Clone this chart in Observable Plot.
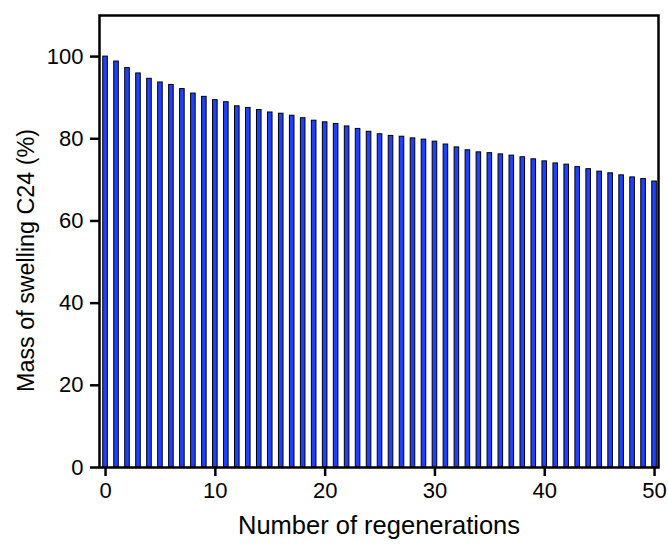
<!DOCTYPE html>
<html>
<head>
<meta charset="utf-8">
<script src="https://cdn.jsdelivr.net/npm/d3@7"></script>
<script src="https://cdn.jsdelivr.net/npm/@observablehq/plot@0.6"></script>
<style>
  html, body { margin: 0; padding: 0; background: #fff; }
</style>
</head>
<body>
<div id="chart"></div>
<script>
// Regeneration cycle number and the remaining swelling mass of C24 (%)
const regenerations = [0, 1, 2, 3, 4, 5, 6, 7, 8, 9, 10, 11, 12, 13, 14, 15, 16, 17, 18, 19, 20,
  21, 22, 23, 24, 25, 26, 27, 28, 29, 30, 31, 32, 33, 34, 35, 36, 37, 38, 39, 40,
  41, 42, 43, 44, 45, 46, 47, 48, 49, 50];
const swellingMass = [100, 98.8, 97.2, 95.9, 94.6, 93.7, 93.1, 92.1, 91.0, 90.2, 89.4,
  88.9, 87.9, 87.5, 87.0, 86.4, 86.1, 85.6, 85.0, 84.4, 84.0,
  83.6, 83.0, 82.4, 81.7, 81.1, 80.7, 80.5, 80.1, 79.8, 79.3,
  78.6, 77.9, 77.2, 76.7, 76.5, 76.2, 75.9, 75.5, 75.0, 74.5,
  74.0, 73.7, 73.1, 72.6, 72.0, 71.6, 71.1, 70.6, 70.2, 69.6];
const xTicks = [0, 10, 20, 30, 40, 50];
const yTicks = [0, 20, 40, 60, 80, 100];
const xLabel = "Number of regenerations";
const yLabel = "Mass of swelling C24 (%)";

const data = regenerations.map((g, i) => ({gen: g, mass: swellingMass[i]}));

const chart = Plot.plot({
  width: 668,
  height: 548,
  marginLeft: 99,
  marginRight: 10,
  marginTop: 15,
  marginBottom: 81,
  style: {fontFamily: "'Liberation Sans', Arial, sans-serif", background: "#fff", color: "#000"},
  x: {domain: [-0.55, 50.36]},
  y: {domain: [0, 110]},
  marks: [
    Plot.rect(data, {
      x1: d => d.gen - 0.5,
      x2: d => d.gen + 0.5,
      y1: 0,
      y2: "mass",
      insetLeft: 3.2,
      insetRight: 3.2,
      fill: "#2040ff",
      stroke: "#000",
      strokeWidth: 1
    }),
    Plot.frame({stroke: "#000", strokeWidth: 2.5}),
    Plot.axisX({ticks: xTicks, tickSize: 9, tickPadding: 6, fontSize: 22, label: null, strokeWidth: 2.5}),
    Plot.axisY({ticks: yTicks, tickSize: 9, tickPadding: 7, fontSize: 22, label: null, strokeWidth: 2.5}),
    Plot.text([xLabel], {frameAnchor: "bottom", dy: 66, fontSize: 25.5, fill: "#000"}),
    Plot.text([yLabel], {frameAnchor: "left", textAnchor: "middle", rotate: -90, dx: -73, dy: 19, fontSize: 23.3, fill: "#000"})
  ]
});
document.getElementById("chart").appendChild(chart);
</script>
</body>
</html>
